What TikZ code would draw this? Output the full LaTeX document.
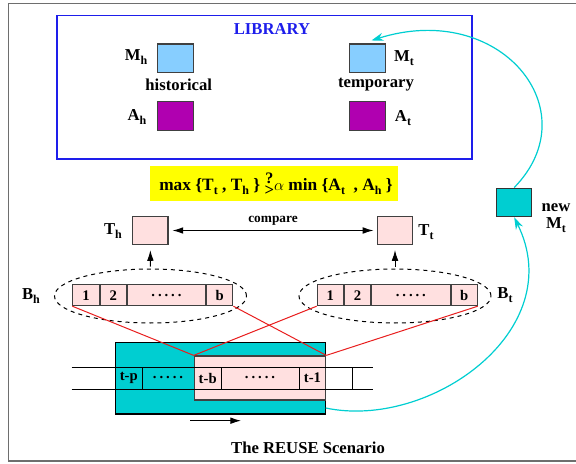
\documentclass[tikz,border=0pt]{standalone}
\usepackage{fontspec}
\setmainfont{Liberation Serif}
\usetikzlibrary{arrows.meta,shapes.geometric,calc}
\definecolor{libblue}{RGB}{30,30,235}
\definecolor{skyfill}{RGB}{135,206,255}
\definecolor{purpfill}{RGB}{176,0,176}
\definecolor{pinkfill}{RGB}{255,224,224}
\definecolor{tealfill}{RGB}{0,206,209}
\definecolor{yellfill}{RGB}{255,255,0}
\definecolor{redline}{RGB}{232,30,30}
\definecolor{framegray}{RGB}{110,110,110}
\newcommand\lowsub[1]{\raisebox{-0.45ex}{\fontsize{9}{10}\selectfont #1}}
\newcommand\celldots{.\hspace{2.2pt}.\hspace{2.2pt}.\hspace{2.2pt}.\hspace{2.2pt}.}
\newcommand\askgt{\raisebox{-0.6ex}{\shortstack{\fontsize{12}{12}\selectfont ?\\[-1.5pt]\fontsize{12.5}{12}\selectfont >}}}
\tikzset{
  lbl/.style={font=\fontsize{12.5}{14}\bfseries\selectfont, inner sep=0pt},
  cellfont/.style={font=\fontsize{11}{12}\bfseries\selectfont},
  libsq/.style={draw=black!75, line width=0.9pt, minimum width=26.5pt, minimum height=21.5pt, inner sep=0pt},
  cell/.style={draw=black!75, line width=0.75pt, fill=pinkfill, minimum height=15.75pt, inner sep=0pt, anchor=west, cellfont},
  smallcell/.style={cell, minimum width=19.7pt},
  dotcell/.style={cell, minimum width=58.7pt},
  dashell/.style={ellipse, draw, dashed, line width=0.75pt, minimum width=144pt, minimum height=40.5pt, inner sep=0pt},
  redln/.style={draw=redline, line width=0.75pt},
  cyanarrow/.style={draw=tealfill, line width=0.9pt, -{Stealth[length=9pt,width=6pt]}},
  blackarrow/.style={line width=0.75pt, -{Latex[length=8pt,width=5pt]}},
}
\begin{document}
\begin{tikzpicture}[x=0.75pt,y=-0.75pt]
\useasboundingbox (0,0) rectangle (576,464);

% outer frame
\draw[framegray, line width=1.2pt] (8.5,3.5) rectangle (590,461);

% library
\draw[libblue, line width=0.9pt] (57,15.5) rectangle (472,159);
\node[lbl, text=libblue] (libtitle) at (272,29) {LIBRARY};
\node[libsq, fill=skyfill] (Mh) at (175.5,58.4) {};
\node[libsq, fill=purpfill] (Ah) at (175.5,116) {};
\node[libsq, fill=skyfill] (Mt) at (367.5,58.4) {};
\node[libsq, fill=purpfill] (At) at (367.5,116) {};
\node[lbl] (Mhl) at (136,57) {M\lowsub{h}};
\node[lbl] (Ahl) at (137,117) {A\lowsub{h}};
\node[lbl] (Mtl) at (404,58) {M\lowsub{t}};
\node[lbl] (Atl) at (403,118) {A\lowsub{t}};
\node[lbl] (hist) at (178.7,85) {historical};
\node[lbl] (temp) at (376,85) {temporary};

% test condition
\node[fill=yellfill, minimum width=185.8pt, minimum height=26pt, inner sep=0pt] (cond) at (273.9,183.4) {};
\node[lbl, font=\fontsize{13}{14}\bfseries\selectfont] (condtxt) at (276,184) {max \{T\lowsub{t} , T\lowsub{h} \} \askgt$\alpha$ min \{A\lowsub{t} \ , A\lowsub{h} \}};

% T boxes
\node[libsq, fill=pinkfill] (Th) at (150.3,230.5) {};
\node[libsq, fill=pinkfill] (Tt) at (395,230.5) {};
\node[lbl] (Thl) at (113,231) {T\lowsub{h}};
\node[lbl] (Ttl) at (426,232) {T\lowsub{t}};
\draw[line width=0.75pt, {Latex[length=8pt,width=5pt]}-{Latex[length=8pt,width=5pt]}, shorten <=3pt, shorten >=2.5pt] (Th.east) -- (Tt.west);
\node[font=\fontsize{10}{11}\bfseries\selectfont] (cmp) at (273,221) {compare};

% buffers
\node[dashell] (elh) at (150.5,296) {};
\node[dashell] (elt) at (395,296) {};
\draw[blackarrow, shorten >=3.5pt, shorten <=1.5pt] (elh.north) -- (Th.south);
\draw[blackarrow, shorten >=3.5pt, shorten <=1.5pt] (elt.north) -- (Tt.south);

\node[smallcell] (h1) at (72.3,295.2) {1};
\node[smallcell] (h2) at (h1.east) {2};
\node[dotcell] (hd) at (h2.east) {\celldots};
\node[smallcell] (hb) at (hd.east) {b};
\node[smallcell] (t1) at (316.7,295.2) {1};
\node[smallcell] (t2) at (t1.east) {2};
\node[dotcell] (td) at (t2.east) {\celldots};
\node[smallcell] (tb) at (td.east) {b};
\node[lbl] (Bhl) at (31,296) {B\lowsub{h}};
\node[lbl] (Btl) at (505,295) {B\lowsub{t}};

% sliding window over the stream
\node[draw=black, line width=0.9pt, fill=tealfill, minimum width=157.8pt, minimum height=53.8pt, inner sep=0pt] (win) at (220.5,378.15) {};
\node[draw=black!75, line width=0.9pt, fill=pinkfill, minimum width=98.55pt, minimum height=33pt, inner sep=0pt] (pk) at (260,378) {};
\draw[line width=0.75pt] (71.7,367.3) -- (373.3,367.3) (71.7,389.3) -- (373.3,389.3);
\foreach \xx in {142.3,221,299.3,352.3}
  \draw[line width=0.75pt] (\xx,367.3) -- (\xx,389.3);
\node[cellfont] (ctp) at (128.8,378) {t-p};
\node[cellfont] (cd1) at (168,378) {\celldots};
\node[cellfont] (ctb) at (207.7,378) {t-b};
\node[cellfont] (cd2) at (260,378) {\celldots};
\node[cellfont] (ct1) at (312.5,378) {t-1};

% mapping of the window onto both buffers
\draw[redln] (h1.south west) -- (pk.north west);
\draw[redln] (hb.south east) -- (pk.north east);
\draw[redln] (t1.south west) -- (pk.north west);
\draw[redln] (tb.south east) -- (pk.north east);

% direction of motion
\coordinate (mvs) at (190,420.7);
\coordinate (mve) at (241,420.7);
\draw[blackarrow] (mvs) -- (mve);
\node[lbl] (title) at (308,447.5) {The REUSE Scenario};

% new model and feedback into the library
\node[libsq, draw=black!80, fill=tealfill] (newMt) at (514.2,202.5) {};
\node[lbl, align=center] (newl) at (556,218) {new\\[-1pt]M\lowsub{t}};
\coordinate (winout) at (325.7,408);
\draw[cyanarrow] (winout) .. controls (430,430) and (570,330) .. (newMt.south);
\coordinate (Mtin) at ($(Mt.north)+(4,-3)$);
\draw[cyanarrow] (newMt.north) .. controls (590,110) and (500,0) .. (Mtin);
\end{tikzpicture}
\end{document}
